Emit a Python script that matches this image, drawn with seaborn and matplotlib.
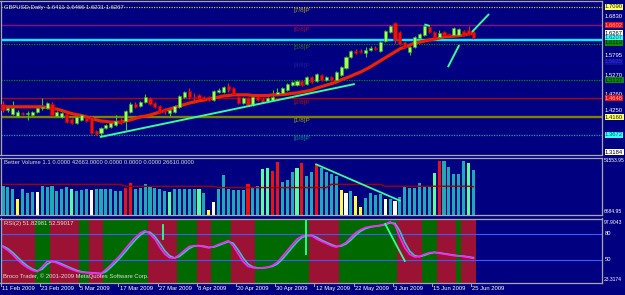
import numpy as np
import pandas as pd
import matplotlib
matplotlib.use("Agg")
import matplotlib.pyplot as plt
import seaborn as sns
from matplotlib.transforms import blended_transform_factory as blend

# ------------------------------------------------------------------ data
symbol_title = "GBPUSD,Daily  1.6411 1.6466 1.6231 1.6267"
vol_title = "Better Volume 1.1 0.0000 42663.0000 0.0000 0.0000 0.0000 26610.0000"
rsi_title = "RSI(2) 51.82981 52.59017"
footer = "Broco Trader, \u00a9 2001-2009 MetaQuotes Software Corp."

date_labels = ["11 Feb 2009", "23 Feb 2009", "5 Mar 2009", "17 Mar 2009", "27 Mar 2009",
               "8 Apr 2009", "20 Apr 2009", "30 Apr 2009", "12 May 2009", "22 May 2009",
               "3 Jun 2009", "15 Jun 2009", "25 Jun 2009"]
date_label_bars = [0, 8, 16, 24, 32, 40, 48, 56, 64, 72, 80, 88, 96]

opens = [1.450, 1.433, 1.423, 1.417, 1.425, 1.423, 1.420, 1.428, 1.439, 1.439,
         1.450, 1.417, 1.415, 1.423, 1.409, 1.399, 1.407, 1.412, 1.415, 1.377,
         1.372, 1.385, 1.388, 1.393, 1.404, 1.404, 1.428, 1.450, 1.444, 1.455,
         1.466, 1.452, 1.444, 1.433, 1.425, 1.428, 1.442, 1.468, 1.484, 1.468,
         1.474, 1.468, 1.468, 1.460, 1.482, 1.482, 1.498, 1.492, 1.468, 1.452,
         1.466, 1.447, 1.468, 1.463, 1.458, 1.460, 1.476, 1.479, 1.487, 1.500,
         1.500, 1.511, 1.503, 1.522, 1.511, 1.527, 1.514, 1.522, 1.514, 1.527,
         1.546, 1.575, 1.591, 1.591, 1.586, 1.594, 1.599, 1.591, 1.618, 1.642,
         1.666, 1.642, 1.615, 1.589, 1.602, 1.626, 1.634, 1.656, 1.642, 1.629,
         1.642, 1.637, 1.634, 1.634, 1.645, 1.648, 1.6411]
highs = [1.458, 1.444, 1.458, 1.433, 1.428, 1.431, 1.431, 1.442, 1.466, 1.455,
         1.455, 1.431, 1.428, 1.425, 1.412, 1.417, 1.423, 1.415, 1.417, 1.380,
         1.388, 1.396, 1.401, 1.420, 1.412, 1.433, 1.455, 1.455, 1.458, 1.476,
         1.468, 1.455, 1.447, 1.439, 1.436, 1.447, 1.474, 1.484, 1.492, 1.479,
         1.476, 1.471, 1.471, 1.487, 1.492, 1.498, 1.506, 1.495, 1.471, 1.468,
         1.468, 1.471, 1.471, 1.466, 1.468, 1.487, 1.492, 1.495, 1.506, 1.511,
         1.514, 1.514, 1.524, 1.524, 1.532, 1.530, 1.524, 1.524, 1.538, 1.551,
         1.578, 1.594, 1.597, 1.597, 1.602, 1.605, 1.605, 1.618, 1.648, 1.661,
         1.669, 1.645, 1.618, 1.605, 1.631, 1.639, 1.661, 1.658, 1.645, 1.648,
         1.645, 1.639, 1.656, 1.653, 1.648, 1.658, 1.6466]
lows = [1.428, 1.428, 1.420, 1.415, 1.420, 1.407, 1.417, 1.425, 1.433, 1.436,
        1.417, 1.415, 1.412, 1.399, 1.396, 1.396, 1.404, 1.401, 1.369, 1.367,
        1.364, 1.383, 1.385, 1.391, 1.396, 1.380, 1.425, 1.439, 1.442, 1.452,
        1.447, 1.439, 1.425, 1.423, 1.417, 1.425, 1.439, 1.466, 1.463, 1.452,
        1.463, 1.460, 1.458, 1.458, 1.479, 1.479, 1.482, 1.474, 1.450, 1.450,
        1.444, 1.444, 1.458, 1.452, 1.455, 1.458, 1.474, 1.476, 1.484, 1.498,
        1.498, 1.498, 1.500, 1.506, 1.508, 1.511, 1.511, 1.511, 1.511, 1.524,
        1.543, 1.573, 1.583, 1.586, 1.575, 1.591, 1.594, 1.589, 1.615, 1.639,
        1.613, 1.607, 1.599, 1.581, 1.599, 1.623, 1.631, 1.639, 1.626, 1.626,
        1.631, 1.631, 1.631, 1.631, 1.631, 1.634, 1.6231]
closes = [1.433, 1.439, 1.439, 1.428, 1.423, 1.425, 1.428, 1.439, 1.442, 1.452,
          1.420, 1.428, 1.425, 1.401, 1.399, 1.415, 1.420, 1.404, 1.372, 1.369,
          1.385, 1.393, 1.399, 1.404, 1.401, 1.431, 1.450, 1.442, 1.455, 1.468,
          1.450, 1.442, 1.428, 1.431, 1.433, 1.444, 1.471, 1.482, 1.468, 1.466,
          1.466, 1.463, 1.460, 1.484, 1.487, 1.495, 1.487, 1.476, 1.452, 1.466,
          1.447, 1.468, 1.460, 1.455, 1.466, 1.468, 1.482, 1.492, 1.503, 1.508,
          1.511, 1.500, 1.522, 1.508, 1.530, 1.514, 1.522, 1.514, 1.535, 1.549,
          1.575, 1.591, 1.586, 1.589, 1.594, 1.599, 1.597, 1.615, 1.645, 1.658,
          1.621, 1.610, 1.602, 1.602, 1.629, 1.637, 1.658, 1.642, 1.629, 1.639,
          1.634, 1.634, 1.653, 1.650, 1.634, 1.637, 1.6267]
ma_line = [1.442, 1.442, 1.442, 1.442, 1.442, 1.442, 1.442, 1.442, 1.442, 1.440,
           1.437, 1.436, 1.432, 1.428, 1.424, 1.421, 1.419, 1.415, 1.411, 1.407,
           1.404, 1.403, 1.401, 1.401, 1.401, 1.404, 1.407, 1.411, 1.415, 1.417,
           1.420, 1.424, 1.428, 1.432, 1.436, 1.440, 1.444, 1.448, 1.452, 1.455,
           1.458, 1.460, 1.463, 1.466, 1.468, 1.471, 1.472, 1.474, 1.474, 1.474,
           1.474, 1.472, 1.472, 1.472, 1.472, 1.474, 1.474, 1.475, 1.476, 1.478,
           1.479, 1.482, 1.484, 1.487, 1.492, 1.496, 1.500, 1.504, 1.508, 1.514,
           1.519, 1.524, 1.530, 1.535, 1.542, 1.549, 1.557, 1.565, 1.573, 1.581,
           1.589, 1.597, 1.602, 1.607, 1.613, 1.615, 1.618, 1.621, 1.623, 1.626,
           1.629, 1.630, 1.631, 1.632, 1.634, 1.637, 1.639]

murrey_levels = [1.7090, 1.6602, 1.6113, 1.5625, 1.5137, 1.4648, 1.4160, 1.3672, 1.3184]
murrey_names = ["[7/8]P", "[6/8]P", "[5/8]P", "[4/8]P", "[3/8]P", "[2/8]P", "[1/8]P", "[0/8]P", "[-1/8]P"]
cyan_level = 1.6207
bid_price = 1.6267
price_ticks = [1.6830, 1.5795, 1.5270, 1.4760, 1.4250]

volumes = [27200, 26500, 24400, 14500, 24400, 20800, 21200, 21800, 27500, 26500,
           27200, 22700, 24400, 26500, 24100, 22700, 23400, 24400, 23400, 24400,
           24100, 24100, 24100, 22400, 22200, 25600, 29800, 24100, 25600, 29100,
           27500, 25600, 24100, 22700, 21200, 24100, 24400, 24400, 24400, 24100,
           24100, 20200, 4300, 11700, 24100, 37700, 24400, 23400, 23400, 23400,
           28800, 25600, 27500, 43500, 44100, 41800, 49900, 30800, 32900, 40900,
           44100, 49500, 36800, 40900, 47900, 44100, 40900, 38700, 36800, 23400,
           20200, 22700, 18000, 7400, 16000, 20800, 18600, 19300, 14800, 14500,
           13200, 17000, 26500, 25000, 25000, 30400, 26500, 26500, 39900, 51100,
           51100, 45600, 38700, 38700, 51500, 48900, 42663]
volume_kind = list("tttytttwtt" "ttttgtttwt" "tttttrrttt" "ttttgttttt" "gtywtttttt"
                   "rttggrrttt" "grttrtttty" "wtyyttttwt" "wtttttttgr" "tttttgt")
volume_avg = [28800, 28800, 28800, 28800, 28800, 28800, 28800, 28800, 28800, 28800,
              28800, 28800, 28800, 28800, 28800, 28800, 28800, 28800, 28800, 28800,
              28800, 28800, 28800, 28800, 28800, 26900, 26900, 26900, 26900, 26900,
              26900, 26900, 26900, 26900, 26900, 26900, 26900, 26900, 26900, 26900,
              26900, 26900, 26900, 26900, 25700, 25700, 25700, 25700, 25700, 25700,
              25700, 25700, 25700, 25700, 25700, 25700, 25700, 25700, 25700, 25700,
              25700, 25700, 25700, 25700, 25700, 25700, 25700, 28800, 28800, 28800,
              28800, 28800, 28800, 28800, 28800, 28800, 28800, 28800, 27000, 27000,
              27000, 27000, 27000, 27000, 27000, 27000, 27000, 27000, 27000, 27000,
              27000, 27000, 27000, 27000, 27000, 27000, 26610]
vol_axis_max, vol_axis_min = "51553.95", "6684.95"

rsi = [65, 61, 56, 50, 45, 41, 38, 36.5, 42, 48,
       48.5, 46.5, 44, 41.5, 39, 37, 35.7, 35.3, 35, 34.3,
       34, 39, 44, 50, 56, 63, 70, 76, 81, 83.8,
       80, 74, 64.6, 57, 52.5, 52, 56, 61, 65.5, 66.5,
       66.5, 65, 64, 65.5, 68, 70, 72.3, 66, 57, 48,
       42.5, 41, 40.3, 41, 41.6, 43.5, 47.3, 54, 60.7, 67.5,
       74, 77.5, 78.5, 78, 74.2, 71.5, 69, 66.5, 64.8, 67,
       70, 76, 81.5, 85, 87.5, 88.6, 89.3, 90, 91.5, 94.2,
       90.4, 76.2, 64, 56.5, 53.5, 54, 56.5, 58.3, 58.9, 57.7,
       56.8, 56, 55, 54.5, 54, 53, 51.83]
rsi_signal = [66, 63, 58.5, 53, 47.5, 43, 39.5, 37.3, 39.3, 45,
              48.3, 47.5, 45.3, 42.8, 40.3, 38, 36.4, 35.5, 35.2, 34.7,
              34.2, 36.5, 41.5, 47, 53, 59.5, 66.5, 73, 78.5, 82.4,
              82, 77, 69.3, 60.8, 54.8, 52.3, 54, 58.5, 63.3, 66,
              66.5, 65.8, 64.5, 64.8, 66.8, 69, 71.2, 69.2, 61.5, 52.5,
              45.3, 41.8, 40.7, 40.7, 41.3, 42.6, 45.4, 50.7, 57.4, 64.1,
              70.8, 75.8, 78, 78.3, 76.1, 72.9, 70.3, 67.8, 65.7, 65.9,
              68.5, 73, 78.8, 83.3, 86.3, 88, 89, 89.7, 90.8, 92.9,
              92.3, 83.3, 70.1, 60.3, 55, 53.8, 55.3, 57.4, 58.6, 58.3,
              57.3, 56.4, 55.5, 54.8, 54.3, 53.5, 52.59]
rsi_band = list("rrrrrrr" "ggg" "rrrrrr" "gg" "rrr" "ggggggggg" "rrrrrr" "gggg" "rrr" "gggg"
                "rrrrr" "ggggggggggg" "rrrrrr" "gggggggggggg" "rrrrr" "ggg" "rrrr" "g" "rrr")
rsi_levels = [80, 50]
rsi_axis_max, rsi_axis_min = 97.9043, 23.3174

# hand-drawn trend lines: (bar, value) pairs
price_trend_lines = [[(19.8, 1.3612), (71.8, 1.5030)],
                     [(90.8, 1.5482), (93.1, 1.6071)],
                     [(95.7, 1.6421), (99.2, 1.6903)],
                     [(86.0, 1.6625), (87.1, 1.6582)]]
volume_trend_line = [(63.9, 47900), (81.0, 13200)]
rsi_trend_lines = [[(32.65, 90.4), (32.65, 74.2)],
                   [(61.9, 95.4), (61.9, 56.9)],
                   [(78.0, 91.5), (82.0, 48.8)]]

# ------------------------------------------------------------------ style
plt.rcParams['font.family'] = ['Liberation Sans Narrow', 'Liberation Sans', 'DejaVu Sans']
BG = '#000080'
SPINE = '#a8a8a8'
FS = 4.25
FS_SMALL = 3.6
W, H = 625, 295
n = len(closes)
idx = np.arange(n)

fig = plt.figure(figsize=(W / 100, H / 100), dpi=100, facecolor=BG)


def add_ax(x0, y0, x1, y1):
    ax = fig.add_axes([x0 / W, 1 - y1 / H, (x1 - x0) / W, (y1 - y0) / H])
    ax.set_facecolor(BG)
    for s in ax.spines.values():
        s.set_color(SPINE)
        s.set_linewidth(0.9)
    return ax


ax_p = add_ax(0.5, 1, 602, 155)
ax_v = add_ax(0.5, 157.5, 602, 214.5)
ax_r = add_ax(0.5, 218.5, 602, 283)
XL = ((0.5 - 3) / 4.9, (602 - 3) / 4.9)

# ------------------------------------------------------------------ price panel
df = pd.DataFrame({'o': opens, 'h': highs, 'l': lows, 'c': closes, 'ma': ma_line, 'i': idx})
bull = (df.c >= df.o).values

line_styles = {
    "[7/8]P": ('#c8c800', (0, (1, 1)), 0.9, '#a8a030'),
    "[6/8]P": ('#8a0a8a', '-', 1.0, '#a01040'),
    "[5/8]P": ('#0a8a0a', (0, (1, 1)), 0.9, '#306a20'),
    "[4/8]P": ('#0000a8', (0, (1, 1)), 0.8, '#1e1ea8'),
    "[3/8]P": ('#0a8a0a', (0, (1, 1)), 0.9, '#306a20'),
    "[2/8]P": ('#c00000', '-', 0.9, '#b01020'),
    "[1/8]P": ('#808000', '-', 1.7, '#9a9a20'),
    "[0/8]P": ('#00a8a8', (0, (1, 1)), 0.9, '#008c8c'),
    "[-1/8]P": (None, '-', 0, None),
}
for lvl, name in zip(murrey_levels, murrey_names):
    col, ls, lw, tcol = line_styles[name]
    if col is None:
        continue
    ax_p.axhline(lvl, color=col, ls=ls, lw=lw, zorder=1)
    ax_p.text((293 - 3) / 4.9, lvl - 0.0035, name, color=tcol, fontsize=FS + 0.3,
              ha='left', va='top', zorder=1.5)

ax_p.axhline(cyan_level, color='#00f0ff', lw=1.7, zorder=2)

# candles
wick_col = np.where(bull, '#33cc33', '#ee2222')
ax_p.vlines(idx, df.l, df.h, colors=wick_col, lw=0.8, zorder=3)
body_lo = np.minimum(df.o, df.c)
body_h = np.maximum(np.abs(df.c - df.o), 0.0012)
ax_p.bar(idx, body_h, bottom=body_lo, width=0.62,
         color=np.where(bull, '#a6ff55', '#ee1111'),
         edgecolor=np.where(bull, '#22b022', '#c00000'), linewidth=0.4, zorder=4)

sns.lineplot(data=df, x='i', y='ma', ax=ax_p, color='#ee2200', lw=2.3, zorder=3.5)

for seg in price_trend_lines:
    xs, ys = zip(*seg)
    ax_p.plot(xs, ys, color='#33ff99', lw=1.4, zorder=6, solid_capstyle='butt')

ax_p.set_xlim(*XL)
ax_p.set_ylim(1.3131, 1.7250)
ax_p.text(4 / 602, 1 - 4 / 154, symbol_title, transform=ax_p.transAxes, color='#d8d8d8',
          fontsize=FS, ha='left', va='top')

# right price scale
rt = blend(ax_p.transAxes, ax_p.transData)
tick_display = {1.4250: 1.4315}
for t in price_ticks:
    ax_p.text(1.005, tick_display.get(t, t), f"{t:.4f}", transform=rt, color='white',
              fontsize=FS, ha='left', va='center', clip_on=False)
# (value, display position on the scale, face colour, text colour)
boxes = [
    (murrey_levels[0], murrey_levels[0], '#ffff66', '#202000'),
    (murrey_levels[1], murrey_levels[1], '#e81010', '#ffb0b0'),
    (bid_price, 1.6394, '#ffffff', '#000000'),
    (cyan_level, 1.6261, '#33ffff', '#006070'),
    (murrey_levels[2], 1.6127, '#0a8a0a', '#002800'),
    (murrey_levels[3], murrey_levels[3], '#10109a', '#3030ff'),
    (murrey_levels[4], murrey_levels[4], '#0a8a0a', '#002800'),
    (murrey_levels[5], murrey_levels[5], '#e81010', '#ffb0b0'),
    (murrey_levels[6], 1.4140, '#ffff66', '#202000'),
    (murrey_levels[7], murrey_levels[7], '#33ffff', '#006070'),
    (murrey_levels[8], 1.3210, '#ffffff', '#000000'),
]
for val, pos, fc, tc in boxes:
    ax_p.text(1.005, pos, f"{val:.4f}", transform=rt, color=tc, fontsize=FS,
              ha='left', va='center', clip_on=False, zorder=10,
              bbox=dict(boxstyle='square,pad=0.08', fc=fc, ec='none'))

# ------------------------------------------------------------------ volume panel
vdf = pd.DataFrame({'i': idx, 'v': volumes, 'k': volume_kind, 'avg': volume_avg})
vpal = {'t': '#1fa8b8', 'r': '#ee1111', 'w': '#ffffff', 'y': '#ffff33', 'g': '#55ff99'}
sns.barplot(data=vdf, x='i', y='v', hue='k', palette=vpal, native_scale=True, width=0.64,
            legend=False, ax=ax_v, saturation=1, linewidth=0, dodge=False, errorbar=None)
sns.lineplot(data=vdf, x='i', y='avg', ax=ax_v, color='#a00000', lw=1.0, zorder=5)
xs, ys = zip(*volume_trend_line)
ax_v.plot(xs, ys, color='#33ff99', lw=1.3, zorder=6)
ax_v.set_xlim(*XL)
ax_v.set_ylim(0, 54435)
ax_v.text(4 / 602, 1 - 3 / 57, vol_title, transform=ax_v.transAxes, color='#d8d8d8',
          fontsize=FS, ha='left', va='top')
rv = blend(ax_v.transAxes, ax_v.transData)
ax_v.text(1.003, 51554, vol_axis_max, transform=rv, color='white', fontsize=FS_SMALL,
          ha='left', va='center', clip_on=False)
ax_v.text(1.003, 2500, vol_axis_min, transform=rv, color='white', fontsize=FS_SMALL,
          ha='left', va='center', clip_on=False)

# ------------------------------------------------------------------ RSI panel
rdf = pd.DataFrame({'i': idx, 'rsi': rsi, 'sig': rsi_signal, 'band': rsi_band})
band_pal = {'r': '#9c1234', 'g': '#006a00'}
ax_r.bar(idx, rsi_axis_max - rsi_axis_min + 2, bottom=rsi_axis_min - 1, width=1.0,
         color=[band_pal[b] for b in rsi_band], linewidth=0, antialiased=False, zorder=0)
for lv in rsi_levels:
    ax_r.axhline(lv, color='#3a5cff', lw=0.8, zorder=1)
sns.lineplot(data=rdf, x='i', y='sig', ax=ax_r, color='#30c8c8', lw=1.2, zorder=3)
sns.lineplot(data=rdf, x='i', y='rsi', ax=ax_r, color='#ff22ff', lw=1.2, zorder=4)
for seg in rsi_trend_lines:
    xs, ys = zip(*seg)
    ax_r.plot(xs, ys, color='#33ff99', lw=1.3, zorder=6)
ax_r.set_xlim(*XL)
ax_r.set_ylim(rsi_axis_min, rsi_axis_max)
ax_r.text(4 / 602, 1 - 3 / 64.5, rsi_title, transform=ax_r.transAxes, color='#e0e0e0',
          fontsize=FS, ha='left', va='top', zorder=7)
ax_r.text(3 / 602, 4 / 64.5, footer, transform=ax_r.transAxes, color='#e0e0e0',
          fontsize=FS, ha='left', va='bottom', zorder=7)
rr = blend(ax_r.transAxes, ax_r.transData)
ax_r.text(1.003, rsi_axis_max - 1.5, f"{rsi_axis_max:.4f}", transform=rr, color='white',
          fontsize=FS_SMALL, ha='left', va='top', clip_on=False)
for lv in rsi_levels:
    ax_r.text(1.005, lv, f"{lv}", transform=rr, color='white', fontsize=FS,
              ha='left', va='center', clip_on=False)
ax_r.text(1.003, rsi_axis_min + 1.0, f"{rsi_axis_min:.4f}", transform=rr, color='white',
          fontsize=FS_SMALL, ha='left', va='bottom', clip_on=False)

# date axis
rd = blend(ax_r.transData, ax_r.transAxes)
for b, lab in zip(date_label_bars, date_labels):
    ax_r.plot([b - 0.45, b - 0.45], [0, -0.05], transform=rd, color=SPINE, lw=0.7,
              clip_on=False)
    ax_r.text(b - 0.2, -0.04, lab, transform=rd, color='white', fontsize=FS,
              ha='left', va='top', clip_on=False)

for ax in (ax_p, ax_v, ax_r):
    ax.set_xticks([])
    ax.set_yticks([])
    ax.set_xlabel('')
    ax.set_ylabel('')

fig.savefig('out.png', dpi=100, facecolor=BG)
